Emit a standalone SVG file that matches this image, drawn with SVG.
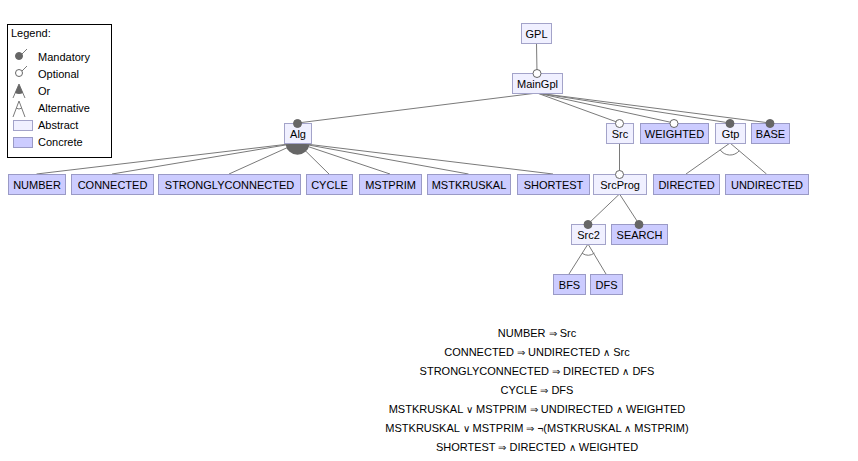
<svg xmlns="http://www.w3.org/2000/svg" width="858" height="461" viewBox="0 0 858 461">
<style>
text{font-family:"Liberation Sans",Arial,sans-serif;font-size:11px;fill:#000}
.n text{text-anchor:middle}
.abs{fill:#f0f0ff;stroke:#a3a3c9;stroke-width:1}
.con{fill:#ccccff;stroke:#9a9ac6;stroke-width:1}
.ln{stroke:#7a7a7a;stroke-width:1;fill:none}
.man{fill:#666;stroke:#666;stroke-width:1}
.opt{fill:#fff;stroke:#666;stroke-width:1}
.orf{fill:#666;stroke:none}
.alt{fill:none;stroke:#7a7a7a;stroke-width:1}
.cs text{text-anchor:middle}
.sym{font-size:10px}
</style>
<rect width="858" height="461" fill="#fff"/>
<g id="legend">
<rect x="7.5" y="24.5" width="104" height="133" fill="#fff" stroke="#000"/>
<text x="11" y="37">Legend:</text>
<line class="ln" x1="20" y1="56" x2="27" y2="49"/><circle class="man" cx="19" cy="56" r="3.5"/>
<text x="38" y="61">Mandatory</text>
<line class="ln" x1="20" y1="73" x2="27" y2="66"/><circle class="opt" cx="19" cy="73" r="3.5"/>
<text x="38" y="78">Optional</text>
<path class="ln" d="M13,98 L19,84 L25,98"/><path class="orf" d="M19,84 L15,93 Q19,95 23,93 Z"/>
<text x="38" y="95">Or</text>
<path class="ln" d="M13,117 L19,101 L25,117"/><path class="alt" d="M16,108 Q19,110 22,108"/>
<text x="38" y="112">Alternative</text>
<rect class="abs" x="13.5" y="120.5" width="19" height="10"/>
<text x="38" y="129">Abstract</text>
<rect class="con" x="13.5" y="137.5" width="19" height="10"/>
<text x="38" y="146">Concrete</text>
</g>
<g id="connectors">
<line class="ln" x1="536.5" y1="43" x2="537" y2="73"/>
<line class="ln" x1="537" y1="93" x2="297.5" y2="123"/>
<line class="ln" x1="537" y1="93" x2="619.5" y2="123"/>
<line class="ln" x1="537" y1="93" x2="674" y2="123"/>
<line class="ln" x1="537" y1="93" x2="730" y2="123"/>
<line class="ln" x1="537" y1="93" x2="770" y2="123"/>
<line class="ln" x1="297.5" y1="143" x2="36.5" y2="174"/>
<line class="ln" x1="297.5" y1="143" x2="112" y2="174"/>
<line class="ln" x1="297.5" y1="143" x2="229" y2="174"/>
<line class="ln" x1="297.5" y1="143" x2="329" y2="174"/>
<line class="ln" x1="297.5" y1="143" x2="390" y2="174"/>
<line class="ln" x1="297.5" y1="143" x2="468.5" y2="174"/>
<line class="ln" x1="297.5" y1="143" x2="553" y2="174"/>
<path class="orf" d="M297.5,143 L309.4,144.4 A12,12 0 0,1 285.6,144.4 Z"/>
<line class="ln" x1="619.5" y1="143" x2="619.5" y2="174"/>
<line class="ln" x1="730" y1="143" x2="686" y2="174"/>
<line class="ln" x1="730" y1="143" x2="766.5" y2="174"/>
<path class="alt" d="M739.2,150.8 A12,12 0 0,1 720.2,149.9"/>
<line class="ln" x1="619.5" y1="194" x2="588" y2="224"/>
<line class="ln" x1="619.5" y1="194" x2="639" y2="224"/>
<line class="ln" x1="588" y1="244" x2="569" y2="274"/>
<line class="ln" x1="588" y1="244" x2="606" y2="274"/>
<path class="alt" d="M594.4,253.1 A11,11 0 0,1 582.1,253.3"/>
</g>
<g class="n">
<g id="GPL"><rect class="abs" x="521.5" y="23.5" width="30" height="20"/><text x="536.5" y="37.5">GPL</text></g>
<g id="MainGpl"><rect class="abs" x="512.5" y="73.5" width="50" height="20"/><text x="537.5" y="87.5">MainGpl</text><circle class="opt" cx="537" cy="73.5" r="4"/></g>
<g id="Alg"><rect class="abs" x="284.5" y="123.5" width="27" height="20"/><text x="298" y="137.5">Alg</text><circle class="man" cx="297.5" cy="123.5" r="4"/></g>
<g id="Src"><rect class="abs" x="606.5" y="123.5" width="27" height="20"/><text x="620" y="137.5">Src</text><circle class="opt" cx="619.5" cy="123.5" r="4"/></g>
<g id="WEIGHTED"><rect class="con" x="640.5" y="123.5" width="68" height="20"/><text x="674.5" y="137.5">WEIGHTED</text><circle class="opt" cx="674" cy="123.5" r="4"/></g>
<g id="Gtp"><rect class="abs" x="715.5" y="123.5" width="30" height="20"/><text x="730.5" y="137.5">Gtp</text><circle class="man" cx="730" cy="123.5" r="4"/></g>
<g id="BASE"><rect class="con" x="751.5" y="123.5" width="38" height="20"/><text x="770.5" y="137.5">BASE</text><circle class="man" cx="770" cy="123.5" r="4"/></g>
<g id="NUMBER"><rect class="con" x="8.5" y="174.5" width="57" height="20"/><text x="37" y="188.5">NUMBER</text></g>
<g id="CONNECTED"><rect class="con" x="71.5" y="174.5" width="82" height="20"/><text x="112.5" y="188.5">CONNECTED</text></g>
<g id="STRONGLYCONNECTED"><rect class="con" x="158.5" y="174.5" width="142" height="20"/><text x="229.5" y="188.5">STRONGLYCONNECTED</text></g>
<g id="CYCLE"><rect class="con" x="306.5" y="174.5" width="46" height="20"/><text x="329.5" y="188.5">CYCLE</text></g>
<g id="MSTPRIM"><rect class="con" x="359.5" y="174.5" width="62" height="20"/><text x="390.5" y="188.5">MSTPRIM</text></g>
<g id="MSTKRUSKAL"><rect class="con" x="427.5" y="174.5" width="83" height="20"/><text x="469" y="188.5">MSTKRUSKAL</text></g>
<g id="SHORTEST"><rect class="con" x="517.5" y="174.5" width="72" height="20"/><text x="553.5" y="188.5">SHORTEST</text></g>
<g id="SrcProg"><rect class="abs" x="593.5" y="174.5" width="53" height="20"/><text x="620" y="188.5">SrcProg</text><circle class="opt" cx="619.5" cy="174.5" r="4"/></g>
<g id="DIRECTED"><rect class="con" x="653.5" y="174.5" width="66" height="20"/><text x="686.5" y="188.5">DIRECTED</text></g>
<g id="UNDIRECTED"><rect class="con" x="725.5" y="174.5" width="83" height="20"/><text x="767" y="188.5">UNDIRECTED</text></g>
<g id="Src2"><rect class="abs" x="571.5" y="224.5" width="34" height="20"/><text x="588.5" y="238.5">Src2</text><circle class="man" cx="588" cy="224.5" r="4"/></g>
<g id="SEARCH"><rect class="con" x="611.5" y="224.5" width="56" height="20"/><text x="639.5" y="238.5">SEARCH</text><circle class="man" cx="639" cy="224.5" r="4"/></g>
<g id="BFS"><rect class="con" x="553.5" y="274.5" width="32" height="20"/><text x="569.5" y="288.5">BFS</text></g>
<g id="DFS"><rect class="con" x="590.5" y="274.5" width="32" height="20"/><text x="606.5" y="288.5">DFS</text></g>
</g>
<g id="constraints" class="cs">
<text x="537" y="337">NUMBER <tspan class="sym">⇒</tspan> Src</text>
<text x="537" y="356">CONNECTED <tspan class="sym">⇒</tspan> UNDIRECTED <tspan class="sym">∧</tspan> Src</text>
<text x="537" y="375">STRONGLYCONNECTED <tspan class="sym">⇒</tspan> DIRECTED <tspan class="sym">∧</tspan> DFS</text>
<text x="537" y="394">CYCLE <tspan class="sym">⇒</tspan> DFS</text>
<text x="537" y="413">MSTKRUSKAL <tspan class="sym">∨</tspan> MSTPRIM <tspan class="sym">⇒</tspan> UNDIRECTED <tspan class="sym">∧</tspan> WEIGHTED</text>
<text x="537" y="432">MSTKRUSKAL <tspan class="sym">∨</tspan> MSTPRIM <tspan class="sym">⇒</tspan> <tspan class="sym">¬</tspan>(MSTKRUSKAL <tspan class="sym">∧</tspan> MSTPRIM)</text>
<text x="537" y="451">SHORTEST <tspan class="sym">⇒</tspan> DIRECTED <tspan class="sym">∧</tspan> WEIGHTED</text>
</g>
</svg>
